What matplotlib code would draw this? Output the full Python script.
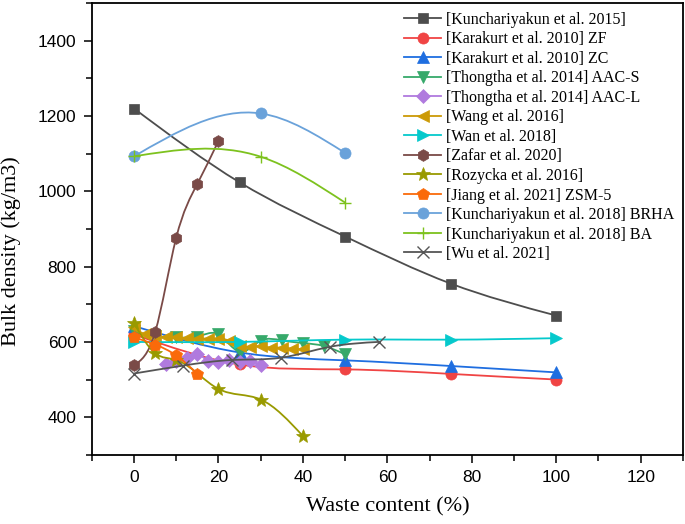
import matplotlib
matplotlib.use("Agg")
import matplotlib.pyplot as plt
import numpy as np
from matplotlib.path import Path
from matplotlib.patches import PathPatch
from matplotlib.lines import Line2D
from matplotlib.ticker import MultipleLocator

# values
names = ["[Kunchariyakun et al. 2015]", "[Karakurt et al. 2010] ZF", "[Karakurt et al. 2010] ZC",
         "[Thongtha et al. 2014] AAC-S", "[Thongtha et al. 2014] AAC-L", "[Wang et al. 2016]",
         "[Wan et al. 2018]", "[Zafar et al. 2020]", "[Rozycka et al. 2016]",
         "[Jiang et al. 2021] ZSM-5", "[Kunchariyakun et al. 2018] BRHA",
         "[Kunchariyakun et al. 2018] BA", "[Wu et al. 2021]"]

kun15_x = [0, 25, 50, 75, 100]
kun15_y = [1220, 1024, 880, 755, 670]
zf_x = [0, 25, 50, 75, 100]
zf_y = [620, 540, 527, 515, 500]
zc_x = [0, 25, 50, 75, 100]
zc_y = [642, 572, 551, 536, 519]
aacs_x = [0, 5, 10, 15, 20, 25, 30, 35, 40, 45, 50]
aacs_y = [628, 615, 612, 614, 620, 574, 603, 604, 597, 589, 567]
aacl_x = [7.5, 10, 12.5, 15, 17.5, 20, 22.5, 25, 27.5, 30]
aacl_y = [541, 550, 556, 569, 549, 547, 551, 546, 548, 538]
wang_x = [0, 2.5, 5, 7.5, 10, 12.5, 15, 17.5, 20, 22.5, 25, 27.5, 30, 32.5, 35, 37.5, 40]
wang_y = [640, 620, 615, 612, 612, 610, 609, 609, 609, 603, 589, 587, 588, 585, 585, 582, 580]
wan_x = [0, 25, 50, 75, 100]
wan_y = [600, 600, 606, 606, 610]
zafar_x = [0, 5, 10, 15, 20]
zafar_y = [538, 626, 877, 1020, 1134]
roz_x = [0, 5, 10, 20, 30, 40]
roz_y = [650, 570, 552, 475, 447, 350]
jiang_x = [0, 5, 10, 15]
jiang_y = [612, 593, 564, 515]
brha_x = [0, 30, 50]
brha_y = [1093, 1207, 1102]
ba_x = [0, 30, 50]
ba_y = [1093, 1092, 970]
wu_x = [0, 11.6, 23.2, 34.8, 46.4, 58]
wu_y = [516, 537, 552, 558, 587, 600]

xs = [kun15_x, zf_x, zc_x, aacs_x, aacl_x, wang_x, wan_x, zafar_x, roz_x, jiang_x, brha_x, ba_x, wu_x]
ys = [kun15_y, zf_y, zc_y, aacs_y, aacl_y, wang_y, wan_y, zafar_y, roz_y, jiang_y, brha_y, ba_y, wu_y]
colors = ["#4d4d4d", "#f04444", "#1f6ee0", "#36a96a", "#b07ade", "#cc9a06", "#05c9cc",
          "#7a4a47", "#999a00", "#fa6a0a", "#6aa2da", "#7dc21e", "#555555"]
markers = ["s", "o", "^", "v", "D", "<", ">", "h", "*", "p", "o", "+", "x"]
msizes = [7, 8, 8.5, 8.5, 7, 8.5, 8.5, 8.5, 10, 9, 8, 9, 9]


def spline_path(x, y):
    # natural cubic spline through the points, drawn as bezier segments
    x = np.asarray(x, float)
    y = np.asarray(y, float)
    n = len(x)
    h = np.diff(x)
    s = np.diff(y) / h
    M = np.zeros(n)
    if n > 2:
        A = np.zeros((n - 2, n - 2))
        b = 6 * (s[1:] - s[:-1])
        for i in range(n - 2):
            A[i, i] = 2 * (h[i] + h[i + 1])
            if i > 0:
                A[i, i - 1] = h[i]
            if i < n - 3:
                A[i, i + 1] = h[i + 1]
        M[1:-1] = np.linalg.solve(A, b)
    d = np.zeros(n)
    d[:-1] = s - h * (2 * M[:-1] + M[1:]) / 6
    d[-1] = s[-1] + h[-1] * (M[-2] + 2 * M[-1]) / 6
    verts = [(x[0], y[0])]
    codes = [Path.MOVETO]
    for i in range(n - 1):
        verts += [(x[i] + h[i] / 3, y[i] + d[i] * h[i] / 3),
                  (x[i + 1] - h[i] / 3, y[i + 1] - d[i + 1] * h[i] / 3),
                  (x[i + 1], y[i + 1])]
        codes += [Path.CURVE4] * 3
    return Path(verts, codes)


fig = plt.figure(figsize=(6.85, 5.24), dpi=100)
ax = fig.add_axes([0.134, 0.132, 0.863, 0.862])

handles = []
for i in range(len(names)):
    c = colors[i]
    patch = PathPatch(spline_path(xs[i], ys[i]), facecolor="none", edgecolor=c, lw=1.3,
                      zorder=2 + i * 0.1)
    ax.add_patch(patch)
    mew = 1.0 if markers[i] in ["+", "x"] else 0.5
    ax.plot(xs[i], ys[i], ls="none", marker=markers[i], ms=msizes[i], color=c,
            mec=c, mew=mew, zorder=2.05 + i * 0.1)
    handles.append(Line2D([], [], color=c, lw=1.3, marker=markers[i], ms=msizes[i],
                          mec=c, mew=mew))

ax.set_xlim(-10, 130)
ax.set_ylim(300, 1500)
ax.xaxis.set_major_locator(MultipleLocator(20))
ax.xaxis.set_minor_locator(MultipleLocator(10))
ax.yaxis.set_minor_locator(MultipleLocator(100))
ax.set_yticks([400, 600, 800, 1000, 1200, 1400])
ax.tick_params(which="major", direction="out", length=6, width=1.1, pad=5,
               labelsize=12.5, labelfontfamily="Liberation Sans")
ax.tick_params(which="minor", direction="out", length=4, width=1.1)
for s in ax.spines.values():
    s.set_linewidth(1.3)

ax.set_xlabel("Waste content (%)", fontsize=16, family="Liberation Serif", labelpad=9)
ax.set_ylabel("Bulk density (kg/m3)", fontsize=16, family="Liberation Serif")
ax.yaxis.set_label_coords(-0.12, 0.451)

leg = ax.legend(handles, names, loc="upper right", bbox_to_anchor=(1.012, 1.016),
                prop={"family": "Liberation Serif", "size": 11.5}, frameon=False,
                handlelength=2.3, labelspacing=0.22, borderpad=0.5, handletextpad=0.3)

fig.savefig("out.png", dpi=100)
